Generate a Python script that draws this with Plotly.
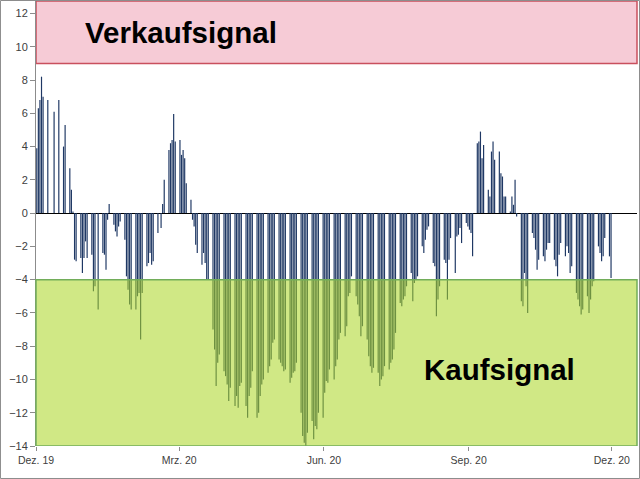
import pandas as pd
import plotly.graph_objects as go

# Daily indicator values (trading days, Mon..Fri per row), None = no visible bar
values_dec_feb = [
    3.9, 6.3, 6.8, 8.2, 7.0,
    6.8, None, None, None, 6.1,
    6.8, None, None, 4.0, 5.3,
    2.7, 1.4, 0.1, -2.8, -2.9,
    -2.7, -3.6, -2.7, -1.7, -2.7,
    -2.5, -4.7, -4.4, None, -5.8,
    -2.4, -2.5, -3.4, -0.4, 0.55,
    -0.7, -1.1, -1.4, -0.8, -0.5,
    -1.6, -3.8, -4.6, -5.5, -5.8,
    -5.8, -5.0, -4.8, -7.6, -4.8,
    -3.2, -3.0, -2.4, -3.1, -2.9,
    -1.2, None, -0.9, 0.55, 2.0,
    3.8, 4.2, 4.4, 5.95, 4.3,
]
values_mar_may = [
    4.4, 3.5, 3.8, 3.3, 1.8,
    0.8, -0.4, -0.8, -1.9, -2.4,
    -3.1, -2.4, -3.0, -4.0, -4.0,
    -7.0, -8.2, -10.4, -9.0, -8.5,
    -9.5, -9.8, -10.3, -11.3, -10.5,
    -11.6, -11.0, -11.7, -10.4, -10.2,
    -11.6, -12.3, -11.0, -10.5, -9.5,
    -12.3, -12.0, -11.0, -10.3, -10.0,
    -9.6, -9.2, -8.8, -7.8, -7.6,
    -8.8, -9.0, -9.2, -9.5, -9.4,
    -10.2, -9.9, -9.6, -9.5, -9.0,
    -12.0, -13.4, -13.8, -14.0, -13.2,
    -12.5, -13.6, -12.8, -13.0, -12.0,
]
values_jun_aug = [
    -12.3, -10.8, -10.1, -10.2, -9.4,
    -10.0, -9.2, -8.8, -7.6, -7.2,
    -7.4, -6.8, -5.0, -4.8, -3.8,
    -5.0, -5.5, -6.2, -7.4, -6.8,
    -7.6, -8.6, -9.2, -9.6, -9.3,
    -9.6, -10.4, -10.0, -9.8, -9.2,
    -9.4, -9.0, -8.8, -8.2, -7.2,
    -5.4, -5.6, -5.2, -5.0, -4.4,
    -3.6, -5.3, -4.2, -4.0, -3.8,
    -2.0, -2.4, -1.6, -1.0, -0.8,
    -3.0, -3.2, -6.2, -5.2, -4.4,
    -2.8, -3.0, -5.2, -2.8, -1.5,
    -3.6, -1.4, -1.3, -0.9, -1.8,
]
values_sep_dec = [
    -0.6, -0.8, -1.0, -1.2, -2.6,
    4.2, 4.3, 4.9, 3.3, 4.1,
    1.4, 1.0, 3.7, 4.3, 3.2,
    3.7, 2.4, 2.2, 1.0, 1.0,
    0.1, 1.0, 0.5, 2.0, -0.2,
    -5.3, -5.6, -3.6, -4.4, -6.0,
    -1.2, -1.5, -2.2, -3.4, -2.8,
    -2.6, -2.9, -2.2, -1.8, -1.8,
    -2.8, -3.2, -3.8, -2.5, -1.8,
    -2.6, -2.0, -2.4, -3.6, -3.2,
    -4.8, -5.2, -5.6, -6.1, -5.8,
    -5.0, -6.0, -5.2, -4.4, -4.1,
    -2.0, -2.4, -2.9, -2.6, -1.5,
    -2.6, -3.9,
]
values = values_dec_feb + values_mar_may + values_jun_aug + values_sep_dec

start_date = "2019-12-02"
end_date = "2020-12-18"
tick_dates = ["2019-12-02", "2020-03-02", "2020-06-02", "2020-09-02", "2020-12-02"]
tick_labels = ["Dez. 19", "Mrz. 20", "Jun. 20", "Sep. 20", "Dez. 20"]
y_ticks = list(range(-14, 13, 2))

sell_zone = (9, 12.75)
buy_zone = (-14, -4)
y_range = [-14, 12.75]

dates = pd.bdate_range(start=start_date, periods=len(values)) + pd.Timedelta(hours=12)

fig = go.Figure()
fig.add_trace(go.Bar(
    x=dates, y=values,
    width=0.75 * 86400000,
    marker=dict(color="#1f3864", line=dict(width=0)),
    showlegend=False,
))

# sell zone (red band)
fig.add_shape(type="rect", xref="paper", yref="y", x0=0, x1=1,
              y0=sell_zone[0], y1=sell_zone[1],
              fillcolor="#f6cbd6", line=dict(color="#c9505e", width=1.5),
              layer="below")
# buy zone (green band, overlaid semi-transparent)
fig.add_shape(type="rect", xref="paper", yref="y", x0=0, x1=1,
              y0=buy_zone[0], y1=buy_zone[1],
              fillcolor="rgba(172,214,38,0.56)", line=dict(color="#72ad5a", width=1.5),
              layer="above")
# chart area border
fig.add_shape(type="rect", xref="paper", yref="paper",
              x0=-0.0591, x1=1.0042, y0=-0.073, y1=1.0011,
              line=dict(color="#8c8c8c", width=1), fillcolor="rgba(0,0,0,0)",
              layer="below")

fig.add_annotation(text="<b>Verkaufsignal</b>", xref="paper", yref="paper",
                   x=0.241, y=0.930, xanchor="center", yanchor="middle", showarrow=False,
                   font=dict(family="Liberation Sans, Arial", size=29.5, color="black"))
fig.add_annotation(text="<b>Kaufsignal</b>", xref="paper", yref="paper",
                   x=0.772, y=0.171, xanchor="center", yanchor="middle", showarrow=False,
                   font=dict(family="Liberation Sans, Arial", size=29.5, color="black"))

fig.update_layout(
    width=640, height=479,
    margin=dict(l=36, r=3, t=1, b=33),
    paper_bgcolor="white", plot_bgcolor="white",
    bargap=0.1,
    font=dict(family="Liberation Sans, Arial", size=11, color="#404040"),
    xaxis=dict(
        type="date", range=[start_date, end_date],
        tickvals=tick_dates, ticktext=tick_labels,
        ticks="outside", ticklen=4, tickcolor="#8c8c8c",
        showgrid=False, showline=False, zeroline=False,
        tickfont=dict(size=10.5, color="#404040"),
    ),
    yaxis=dict(
        range=y_range, tickvals=y_ticks,
        ticks="outside", ticklen=5, tickcolor="#8c8c8c",
        showline=True, linecolor="#8c8c8c", linewidth=1,
        showgrid=False, zeroline=True, zerolinecolor="black", zerolinewidth=1,
        tickfont=dict(size=11, color="#404040"),
    ),
)

fig.write_html("out.html", config={"staticPlot": True, "displayModeBar": False},
               post_script="document.body.style.margin='0';document.body.style.overflow='hidden';")
